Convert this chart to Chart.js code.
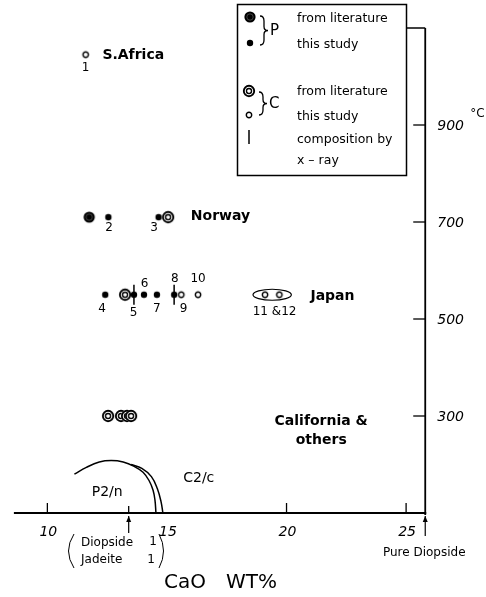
<!DOCTYPE html>
<html>
<head>
<meta charset="utf-8">
<script src="https://cdn.jsdelivr.net/npm/chart.js@4.4.0/dist/chart.umd.min.js"></script>
<style>
  html, body { margin: 0; padding: 0; background: #fff; }
  #wrap { width: 486px; height: 597px; position: relative; }
</style>
</head>
<body>
<div id="wrap"><canvas id="c"></canvas></div>
<script>
// points are [CaO wt%, temperature °C]
const litP = [[11.75, 710]];
const thisP = [[12.55, 710], [14.65, 710], [12.42, 550], [13.62, 550], [14.04, 550], [14.58, 550], [15.3, 550]];
const litC = [[15.05, 710], [13.25, 550], [12.54, 300], [13.08, 300], [13.33, 300], [13.5, 300]];
const thisC = [[11.6, 1045], [15.6, 550], [16.3, 550], [19.1, 550], [19.7, 550]];
const xray = [[13.62, 550], [15.3, 550]];
const pair1112 = [[19.1, 550], [19.7, 550]];

// solvus: P2/n dome and the C2/c side of the two-phase field
const p2nX = [11.13, 11.63, 12.17, 12.67, 13.17, 13.63, 14.0, 14.25, 14.42, 14.5, 14.54];
const p2nT = [180, 194, 205, 208, 205, 196, 184, 167, 147, 126, 100];
const c2cX = [13.5, 13.95, 14.35, 14.6, 14.75, 14.83];
const c2cT = [200, 192, 175, 150, 124, 100];

const xTicks = [10, 15, 20, 25];
const xInnerTicks = [10, 20, 25];
const tTicks = [300, 500, 700, 900];
const diJd11 = 13.4;       // Diopside 1 : Jadeite 1
const pureDiopside = 25.8;
const axisStart = 8.6;

// sample numbers and names, placed in data units
const sampleLabels = [
  ['1', 11.6, 1018], ['2', 12.58, 688], ['3', 14.46, 688],
  ['4', 12.29, 520], ['5', 13.6, 512], ['6', 14.06, 572], ['7', 14.58, 520],
  ['8', 15.33, 582], ['9', 15.7, 520], ['10', 16.3, 582], ['11 &12', 19.5, 514]
];
const placeLabels = [
  ['S.Africa', 12.3, 1044, 'left'], ['Norway', 16.0, 712, 'left'], ['Japan', 21.0, 547, 'left'],
  ['California &', 21.45, 288, 'center'], ['others', 21.45, 249, 'center']
];

const pts = (arr) => arr.map(([x, y]) => ({ x, y }));
const curve = (xs, ts) => xs.map((x, i) => ({ x, y: ts[i] }));

function marker(kind) {
  const c = document.createElement('canvas');
  c.width = c.height = 16;
  const g = c.getContext('2d');
  g.translate(8, 8);
  const circle = (r) => { g.beginPath(); g.arc(0, 0, r, 0, Math.PI * 2); };
  if (kind === 'litP') {
    g.fillStyle = '#000'; circle(5.6); g.fill();
    g.strokeStyle = '#555'; g.lineWidth = 0.8; circle(3.2); g.stroke();
  } else if (kind === 'thisP') {
    g.fillStyle = '#000'; circle(3.2); g.fill();
  } else if (kind === 'litC') {
    g.fillStyle = '#fff'; circle(6); g.fill();
    g.strokeStyle = '#000'; g.lineWidth = 1.9; circle(5.2); g.stroke();
    g.lineWidth = 1.4; circle(2.5); g.stroke();
  } else {
    g.fillStyle = '#fff'; circle(3.2); g.fill();
    g.strokeStyle = '#000'; g.lineWidth = 1.4; circle(2.7); g.stroke();
  }
  return c;
}
const markers = { litP: marker('litP'), thisP: marker('thisP'), litC: marker('litC'), thisC: marker('thisC') };

const FONT = "'DejaVu Sans', sans-serif";

const decor = {
  id: 'decor',
  afterDraw(chart) {
    const { ctx } = chart;
    const xs = chart.scales.x, ys = chart.scales.y;
    const X = (v) => xs.getPixelForValue(v), Y = (v) => ys.getPixelForValue(v);
    const text = (s, x, y, font, align) => {
      ctx.font = font; ctx.textAlign = align || 'left'; ctx.textBaseline = 'middle'; ctx.fillText(s, x, y);
    };
    const line = (x1, y1, x2, y2, w) => {
      ctx.lineWidth = w || 1.5; ctx.beginPath(); ctx.moveTo(x1, y1); ctx.lineTo(x2, y2); ctx.stroke();
    };
    const upArrow = (x, y1, y2) => {
      line(x, y1, x, y2, 1.2);
      ctx.beginPath(); ctx.moveTo(x, y1); ctx.lineTo(x - 2.5, y1 + 6); ctx.lineTo(x + 2.5, y1 + 6); ctx.closePath(); ctx.fill();
    };
    ctx.save();
    ctx.strokeStyle = '#000'; ctx.fillStyle = '#000';

    // axes
    const bottom = Y(100), right = X(pureDiopside);
    line(X(axisStart), bottom, right + 1, bottom, 1.8);
    line(right, Y(1100), right, bottom + 2, 1.8);
    line(406, Y(1100), right, Y(1100), 1.5);
    xInnerTicks.forEach((v) => line(X(v), bottom, X(v), bottom - 10, 1.3));
    line(X(diJd11), bottom, X(diJd11), bottom - 7, 1.3);
    tTicks.forEach((t) => line(right, Y(t), right - 12, Y(t), 1.3));
    xTicks.forEach((v) => text(String(v), X(v) + 1, bottom + 19, 'italic 14px ' + FONT, 'center'));
    tTicks.forEach((t) => text(String(t), right + 12, Y(t) + 1, 'italic 14px ' + FONT));
    text('°C', right + 45, Y(900) - 11, '12px ' + FONT);

    upArrow(X(diJd11), bottom + 3, bottom + 20);
    upArrow(right, bottom + 3, bottom + 23);
    text('Pure Diopside', right - 1, bottom + 40, '12px ' + FONT, 'center');

    // Diopside 1 : Jadeite 1 bracket
    ctx.lineWidth = 1;
    ctx.beginPath(); ctx.moveTo(74, 534); ctx.quadraticCurveTo(63, 551, 74, 568); ctx.stroke();
    ctx.beginPath(); ctx.moveTo(159, 534); ctx.quadraticCurveTo(168, 551, 159, 568); ctx.stroke();
    text('Diopside', 81, 543, '12px ' + FONT); text('1', 153, 542, '12px ' + FONT, 'center');
    text('Jadeite', 81, 560, '12px ' + FONT); text('1', 151, 560, '12px ' + FONT, 'center');

    text('CaO', 164, 583, '20px ' + FONT); text('WT%', 226, 583, '20px ' + FONT);

    // ellipse round samples 11 and 12
    const ex1 = X(pair1112[0][0]), ex2 = X(pair1112[1][0]), ey = Y(pair1112[0][1]);
    ctx.lineWidth = 1.2;
    ctx.beginPath(); ctx.ellipse((ex1 + ex2) / 2, ey, (ex2 - ex1) / 2 + 12, 5.5, 0, 0, Math.PI * 2); ctx.stroke();

    sampleLabels.forEach(([s, x, t]) => text(s, X(x), Y(t), '12px ' + FONT, 'center'));
    placeLabels.forEach(([s, x, t, a]) => text(s, X(x), Y(t), 'bold 14px ' + FONT, a));
    text('P2/n', X(12.5), Y(143), '14px ' + FONT, 'center');
    text('C2/c', X(16.33), Y(172), '14px ' + FONT, 'center');

    // legend
    ctx.fillStyle = '#fff'; ctx.fillRect(237, 4, 169, 171); ctx.fillStyle = '#000';
    ctx.lineWidth = 1.5; ctx.strokeRect(237.5, 4.5, 169, 171);
    const drawM = (m, x, y) => ctx.drawImage(m, x - 8, y - 8);
    drawM(markers.litP, 250, 17); drawM(markers.thisP, 250, 43);
    drawM(markers.litC, 249, 91); drawM(markers.thisC, 249, 115);
    line(249, 130, 249, 144, 1.5);
    const brace = (x, y1, y2) => {
      const m = (y1 + y2) / 2;
      ctx.lineWidth = 1.3; ctx.beginPath();
      ctx.moveTo(x, y1); ctx.quadraticCurveTo(x + 4, y1, x + 4, y1 + 5); ctx.lineTo(x + 4, m - 4);
      ctx.quadraticCurveTo(x + 4, m, x + 8, m); ctx.quadraticCurveTo(x + 4, m, x + 4, m + 4);
      ctx.lineTo(x + 4, y2 - 5); ctx.quadraticCurveTo(x + 4, y2, x, y2); ctx.stroke();
    };
    brace(260, 16, 45); brace(259, 92, 115);
    text('P', 270, 31, '15px ' + FONT); text('C', 269, 104, '15px ' + FONT);
    const lf = '12.5px ' + FONT;
    text('from literature', 297, 19, lf); text('this study', 297, 45, lf);
    text('from literature', 297, 92, lf); text('this study', 297, 117, lf);
    text('composition by', 297, 140, lf); text('x – ray', 297, 161, lf);
    ctx.restore();
  }
};

new Chart(document.getElementById('c'), {
  type: 'scatter',
  data: {
    datasets: [
      { data: pts(xray), pointStyle: 'line', rotation: 90, radius: 10, borderColor: '#000', borderWidth: 1.5 },
      { data: pts(thisC), pointStyle: markers.thisC },
      { data: pts(thisP), pointStyle: markers.thisP },
      { data: pts(litC), pointStyle: markers.litC },
      { data: pts(litP), pointStyle: markers.litP },
      { data: curve(p2nX, p2nT), showLine: true, pointRadius: 0, borderColor: '#000', borderWidth: 1.5, tension: 0.4 },
      { data: curve(c2cX, c2cT), showLine: true, pointRadius: 0, borderColor: '#000', borderWidth: 1.5, tension: 0.4 }
    ]
  },
  options: {
    responsive: true,
    maintainAspectRatio: false,
    devicePixelRatio: 1,
    animation: false,
    events: [],
    layout: { padding: { left: 10, right: 61, top: 28, bottom: 84 } },
    plugins: { legend: { display: false }, tooltip: { enabled: false } },
    scales: {
      x: { type: 'linear', min: 8.5, max: 25.79, display: false },
      y: { type: 'linear', min: 100, max: 1100, display: false }
    }
  },
  plugins: [decor]
});
</script>
</body>
</html>
